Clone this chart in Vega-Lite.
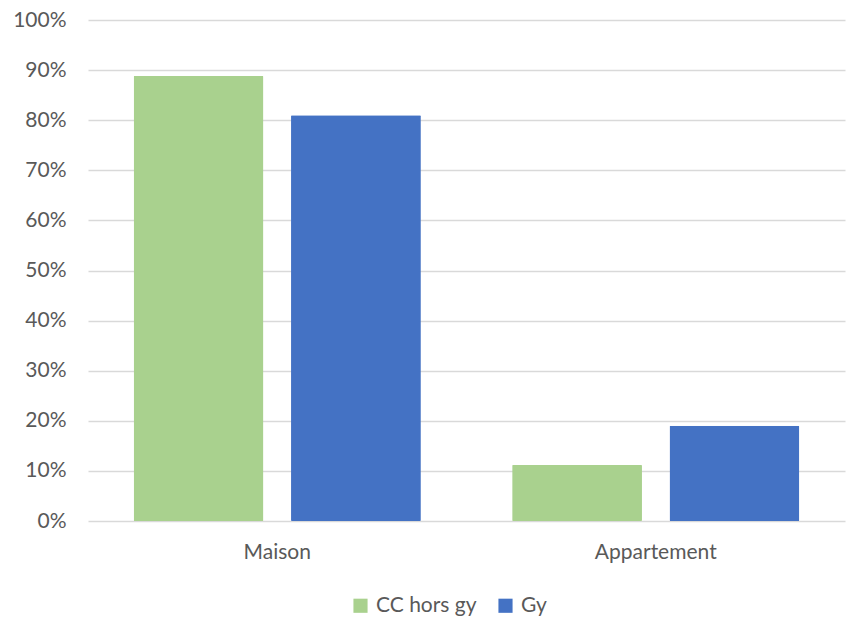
{
  "$schema": "https://vega.github.io/schema/vega-lite/v6.json",
  "autosize": "none",
  "width": 757,
  "height": 501,
  "padding": {"left": 88, "top": 20, "right": 1, "bottom": 97},
  "background": "white",
  "config": {
    "view": {"stroke": null},
    "font": "Lato",
    "axis": {"labelFont": "Lato", "labelColor": "#595959", "labelFontSize": 21}
  },
  "data": {
    "values": [
      {"type": "Maison", "serie": "CC hors gy", "value": 0.888},
      {"type": "Maison", "serie": "Gy", "value": 0.81},
      {"type": "Appartement", "serie": "CC hors gy", "value": 0.112},
      {"type": "Appartement", "serie": "Gy", "value": 0.19}
    ]
  },
  "layer": [
    {
      "mark": {"type": "bar", "cornerRadius": 1},
      "encoding": {
        "x": {
          "field": "type", "type": "nominal", "sort": ["Maison", "Appartement"],
          "scale": {"paddingInner": 0, "paddingOuter": -0.0169, "align": 0},
          "axis": {"title": null, "labelAngle": 0, "ticks": false, "domain": false, "labelPadding": 20}
        },
        "xOffset": {
          "field": "serie", "type": "nominal", "sort": ["CC hors gy", "Gy"],
          "scale": {"paddingInner": 0.175, "paddingOuter": 0.29}
        },
        "y": {
          "field": "value", "type": "quantitative",
          "scale": {"domain": [0, 1]},
          "axis": {"title": null, "format": ".0%", "values": [0,0.1,0.2,0.3,0.4,0.5,0.6,0.7,0.8,0.9,1], "grid": true, "gridColor": "#d9d9d9", "gridWidth": 1.5, "domain": false, "ticks": false, "labelPadding": 22}
        },
        "color": {
          "field": "serie", "type": "nominal",
          "scale": {"domain": ["CC hors gy", "Gy"], "range": ["#A9D18E", "#4472C4"]},
          "legend": {
            "title": null, "orient": "none", "direction": "horizontal",
            "legendX": 262, "legendY": 575,
            "symbolType": "square", "symbolSize": 200, "symbolStrokeWidth": 0,
            "labelFontSize": 21, "labelColor": "#595959", "labelFont": "Lato",
            "columnPadding": 18, "labelOffset": 5
          }
        }
      }
    }
  ]
}
